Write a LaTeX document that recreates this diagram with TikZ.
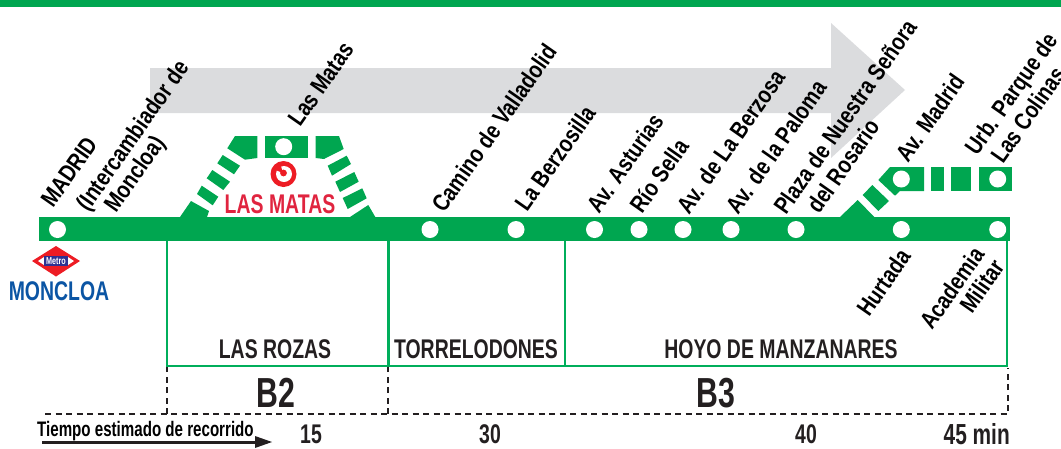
\documentclass[tikz,border=0pt]{standalone}
\usepackage{fontspec}
\setmainfont[FakeStretch=0.72]{Liberation Sans}
\newfontfamily\rotfont[FakeStretch=0.82]{Liberation Sans}
\definecolor{lgreen}{HTML}{00A650}
\definecolor{bgreen}{HTML}{00AE5B}
\definecolor{lgray}{HTML}{DBDCDE}
\definecolor{lred}{HTML}{E0243F}
\definecolor{lblue}{HTML}{0B55A4}
\definecolor{ink}{HTML}{231F20}
\definecolor{mred}{HTML}{ED1C24}
\definecolor{mblue}{HTML}{2E3192}
\tikzset{
 seg/.style={fill=lgreen,draw=none},
 halt/.style={circle,fill=white,draw=none,minimum size=17pt,inner sep=0pt},
 lbl/.style={rotate=55,anchor=base west,inner sep=0pt,text=black,font=\rotfont\fontsize{24}{24}\selectfont\bfseries},
 zone/.style={text=ink,inner sep=0pt,font=\fontsize{27}{27}\selectfont\bfseries},
 fare/.style={text=ink,inner sep=0pt,font=\fontsize{42}{42}\selectfont\bfseries},
 mins/.style={text=ink,inner sep=0pt,font=\fontsize{27}{27}\selectfont\bfseries},
 bound/.style={draw=bgreen,line width=2.4pt},
 dashline/.style={draw=ink,line width=1.8pt,dash pattern=on 6pt off 4.5pt},
}
\begin{document}
\begin{tikzpicture}[x=1pt,y=-1pt]
\useasboundingbox (0,0) rectangle (1061,448);
\fill[lgreen] (0,0) rectangle (1061,7);
% grey direction arrow
\fill[lgray] (150,68) -- (831,68) -- (831,23) -- (905,90) -- (831,158) -- (831,113) -- (150,113) -- cycle;
% zone boxes
\draw[bound] (167,241) -- (167,366) -- (1007,366) -- (1007,241);
\draw[bound] (388.5,241) -- (388.5,366);
\draw[bound] (565,241) -- (565,366);
% fare zones
\draw[dashline] (45,414) -- (1008,414) -- (1008,368);
\draw[dashline] (167,414) -- (167,367);
\draw[dashline] (388,414) -- (388,367);
% main line
\fill[lgreen] (39,217) rectangle (1010,241);
% Las Matas branch
\fill[seg] (180,217) -- (191,201) -- (209,211) -- (207,217) -- cycle;
\fill[seg] (197,194) -- (201.7,185.7) -- (218.3,196.7) -- (212.7,205.3) -- cycle;
\fill[seg] (206.7,178.3) -- (212.3,170) -- (230,181.7) -- (223.3,190) -- cycle;
\fill[seg] (217.3,163.3) -- (222.7,155) -- (240,165.7) -- (234,174.3) -- cycle;
\fill[seg] (235,136) -- (257.3,136) -- (257.3,158) -- (245,159.7) -- (227.3,148.3) -- cycle;
\fill[seg] (265,136) rectangle (307.7,158);
\fill[seg] (315.7,136) -- (339,136) -- (343.7,149) -- (324,159) -- (315.7,158) -- cycle;
\fill[seg] (327.7,165.7) -- (346.7,155.7) -- (351,164) -- (332,175.7) -- cycle;
\fill[seg] (335.3,181.7) -- (354.3,172) -- (358.7,181.7) -- (340,192) -- cycle;
\fill[seg] (342.7,198) -- (362.3,188.3) -- (366.7,198.3) -- (347.7,209) -- cycle;
\fill[seg] (368.3,205) -- (375.3,217) -- (350,217) -- cycle;
\node[halt] (lasmatas) at (283.7,146.7) {};
% right branch
\fill[seg] (840,217) -- (857.7,200) -- (874.3,217) -- cycle;
\fill[seg] (862.7,195) -- (872.3,185) -- (889,201) -- (878.3,211) -- cycle;
\fill[seg] (890,167) -- (924,167) -- (924,191) -- (900,191) -- (895,195.7) -- (878.3,180) -- cycle;
\fill[seg] (931.3,167) rectangle (943.7,191);
\fill[seg] (951.3,167) rectangle (971,191);
\fill[seg] (978.7,167) rectangle (1012,191);
\node[halt] (avmadrid) at (901.3,179) {};
\node[halt] (urb) at (997.7,179) {};
% stations
\foreach \n/\x in {madrid/57.5,camino/430,berzosilla/516,asturias/594.5,sella/639,berzosa/683,paloma/731,rosario/796,hurtada/901.3,academia/997.7}
  \node[halt] (\n) at (\x,229.5) {};
% interchange symbol
\fill[mred] (283.5,174) circle (13);
\fill[white] (284,174) circle (8);
\fill[mred] (283,173) -- (280,163) -- (273,169) -- cycle;
\fill[mred] (283.5,173) circle (3.4);
\node[text=lred,inner sep=0pt,font=\fontsize{27}{27}\selectfont\bfseries] (lmlabel) at (280,204) {LAS MATAS};
% metro logo
\fill[mred] (32,261) -- (56,246) -- (80,261) -- (56,276.5) -- cycle;
\fill[white] (38,261) -- (44,257) -- (68,257) -- (74,261) -- (68,265) -- (44,265) -- cycle;
\fill[mblue] (44,256) rectangle (68,266);
\node[text=white,inner sep=0pt,font=\fontsize{10}{10}\selectfont\bfseries] (metro) at (56,261) {Metro};
\node[text=lblue,inner sep=0pt,font=\fontsize{27}{27}\selectfont\bfseries] (moncloa) at (59,291) {MONCLOA};
% station names
\node[lbl] (t1) at (53,209) {MADRID};
\node[lbl] (t2) at (88,213) {(Intercambiador de};
\node[lbl] (t3) at (116,214) {Moncloa)};
\node[lbl] (t4) at (300,128) {Las Matas};
\node[lbl] (t5) at (444,214) {Camino de Valladolid};
\node[lbl] (t6) at (527,213) {La Berzosilla};
\node[lbl] (t7) at (599,215) {Av. Asturias};
\node[lbl] (t8) at (642,215) {Río Sella};
\node[lbl] (t9) at (689,216) {Av. de  La Berzosa};
\node[lbl] (t10) at (738,216) {Av. de la Paloma};
\node[lbl] (t11) at (786,216) {Plaza de Nuestra Señora};
\node[lbl] (t12) at (819,215) {del Rosario};
\node[lbl] (t13) at (908,164) {Av. Madrid};
\node[lbl] (t14) at (977,157) {Urb. Parque de};
\node[lbl] (t15) at (1003,165) {Las Colinas};
\node[lbl] (t16) at (869,318) {Hurtada};
\node[lbl] (t17) at (932,331) {Academia};
\node[lbl] (t18) at (972,315) {Militar};
% zones
\node[zone] (z1) at (275,349) {LAS ROZAS};
\node[zone] (z2) at (476,349) {TORRELODONES};
\node[zone] (z3) at (781,349) {HOYO DE MANZANARES};
\node[fare] (b2) at (276,393) {B2};
\node[fare] (b3) at (716,393) {B3};
% time scale
\node[text=black,inner sep=0pt,anchor=base west,font=\fontsize{21}{21}\selectfont\bfseries] (tiempo) at (37,436) {Tiempo estimado de recorrido};
\coordinate (a0) at (42,442);
\coordinate (a1) at (272,442);
\fill[ink] (a0) ++(0,-1.5) rectangle (256,443.5);
\fill[ink] (a1) -- (255,436) -- (255,448) -- cycle;
\node[mins] (m15) at (311,434) {15};
\node[mins] (m30) at (490,434) {30};
\node[mins] (m40) at (806,434) {40};
\node[mins,anchor=east,font=\fontsize{29}{29}\selectfont\bfseries] (m45) at (1010,434) {45 min};
\end{tikzpicture}
\end{document}
